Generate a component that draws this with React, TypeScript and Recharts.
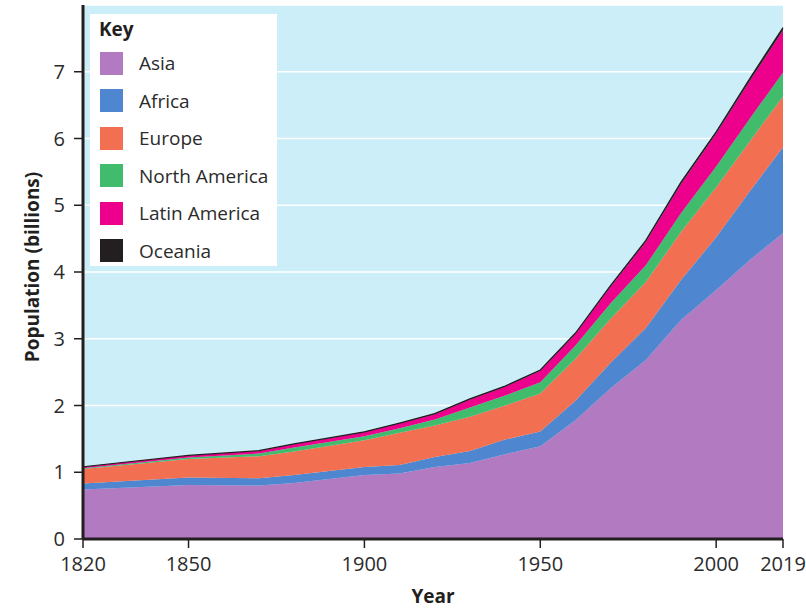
import { AreaChart, Area, XAxis, YAxis, CartesianGrid, Legend } from 'recharts';

const FONT = '"Open Sans", "Noto Sans", sans-serif';
const INK = '#231f20';

// World population by region, billions
const years = [1820, 1850, 1870, 1880, 1900, 1910, 1920, 1930, 1940, 1950, 1960, 1970, 1980, 1990, 2000, 2010, 2019];
const asia = [0.74, 0.81, 0.8, 0.84, 0.96, 0.98, 1.08, 1.14, 1.27, 1.39, 1.78, 2.26, 2.68, 3.28, 3.73, 4.2, 4.58];
const africa = [0.09, 0.11, 0.11, 0.12, 0.12, 0.13, 0.15, 0.18, 0.22, 0.22, 0.29, 0.38, 0.48, 0.6, 0.79, 1.04, 1.29];
const europe = [0.22, 0.28, 0.33, 0.35, 0.4, 0.48, 0.47, 0.51, 0.51, 0.57, 0.63, 0.66, 0.69, 0.72, 0.75, 0.75, 0.76];
const northAmerica = [0.01, 0.02, 0.04, 0.06, 0.06, 0.07, 0.09, 0.14, 0.15, 0.17, 0.2, 0.23, 0.25, 0.28, 0.31, 0.34, 0.36];
const latinAmerica = [0.02, 0.03, 0.04, 0.05, 0.06, 0.07, 0.08, 0.12, 0.13, 0.17, 0.17, 0.25, 0.35, 0.44, 0.49, 0.57, 0.63];
const oceania = [0.002, 0.002, 0.003, 0.004, 0.006, 0.007, 0.009, 0.01, 0.011, 0.013, 0.016, 0.019, 0.023, 0.027, 0.031, 0.037, 0.042];

const yearTicks = [1820, 1850, 1900, 1950, 2000, 2019];
const popTicks = [0, 1, 2, 3, 4, 5, 6, 7];

const regions = [
  { key: 'asia', name: 'Asia', color: '#b27ac1', values: asia },
  { key: 'africa', name: 'Africa', color: '#4e86cf', values: africa },
  { key: 'europe', name: 'Europe', color: '#f36f51', values: europe },
  { key: 'northAmerica', name: 'North America', color: '#41bb6c', values: northAmerica },
  { key: 'latinAmerica', name: 'Latin America', color: '#ec008c', values: latinAmerica },
  { key: 'oceania', name: 'Oceania', color: INK, values: oceania },
];

const data = years.map((year, i) => {
  const row: Record<string, number> = { year };
  for (const r of regions) row[r.key] = r.values[i];
  return row;
});

function KeyBox() {
  return (
    <div
      style={{
        width: 187,
        height: 252,
        background: '#fff',
        position: 'relative',
        fontFamily: FONT,
        color: '#2b2b2b',
      }}
    >
      <div
        style={{
          position: 'absolute',
          left: 9,
          top: 3,
          fontSize: 19,
          fontWeight: 700,
          lineHeight: '24px',
          color: INK,
        }}
      >
        Key
      </div>
      {regions.map((r, i) => (
        <div
          key={r.key}
          style={{
            position: 'absolute',
            left: 10,
            top: 30.5 + i * 37.5,
            height: 37.5,
            display: 'flex',
            alignItems: 'center',
            whiteSpace: 'nowrap',
          }}
        >
          <span style={{ width: 23, height: 23, background: r.color, display: 'inline-block' }} />
          <span style={{ marginLeft: 16, fontSize: 19, lineHeight: '24px' }}>{r.name}</span>
        </div>
      ))}
    </div>
  );
}

function YTitle() {
  const cx = 32;
  const cy = 267;
  return (
    <text
      x={cx}
      y={cy}
      transform={`rotate(-90, ${cx}, ${cy})`}
      textAnchor="middle"
      dominantBaseline="central"
      fontFamily={FONT}
      fontSize={19}
      fontWeight={700}
      fill={INK}
    >
      Population (billions)
    </text>
  );
}

export default function App() {
  const tick = { fill: '#2b2b2b', fontSize: 20, fontFamily: FONT };
  return (
    <div style={{ position: 'absolute', left: 0, top: 0, fontFamily: FONT }}>
      <AreaChart width={806} height={616} data={data} margin={{ top: 5, right: 23, left: 0, bottom: 0 }}>
        <CartesianGrid vertical={false} stroke="#ffffff" strokeWidth={1.5} fill="#cceef9" />
        <XAxis
          dataKey="year"
          type="number"
          domain={[1820, 2019]}
          ticks={yearTicks}
          interval={0}
          height={77}
          tick={tick}
          tickSize={9}
          tickMargin={9}
          axisLine={{ stroke: INK, strokeWidth: 3 }}
          tickLine={{ stroke: INK, strokeWidth: 1.5 }}
          label={{
            value: 'Year',
            position: 'insideBottom',
            offset: 13,
            fill: INK,
            fontSize: 19,
            fontWeight: 700,
            fontFamily: FONT,
          }}
        />
        <YAxis
          type="number"
          domain={[0, 8]}
          ticks={popTicks}
          interval={0}
          width={83}
          tick={tick}
          tickSize={9}
          tickMargin={9}
          axisLine={{ stroke: INK, strokeWidth: 3 }}
          tickLine={{ stroke: INK, strokeWidth: 1.5 }}
          label={<YTitle />}
        />
        <Legend
          layout="vertical"
          align="center"
          verticalAlign="middle"
          wrapperStyle={{ left: 90, top: 14, width: 187, height: 252 }}
          content={() => <KeyBox />}
        />
        {regions.map((r) => (
          <Area
            key={r.key}
            type="linear"
            dataKey={r.key}
            name={r.name}
            stackId="pop"
            fill={r.color}
            fillOpacity={1}
            stroke={r.key === 'oceania' ? INK : 'none'}
            strokeWidth={r.key === 'oceania' ? 1.2 : 0}
            isAnimationActive={false}
          />
        ))}
      </AreaChart>
    </div>
  );
}
